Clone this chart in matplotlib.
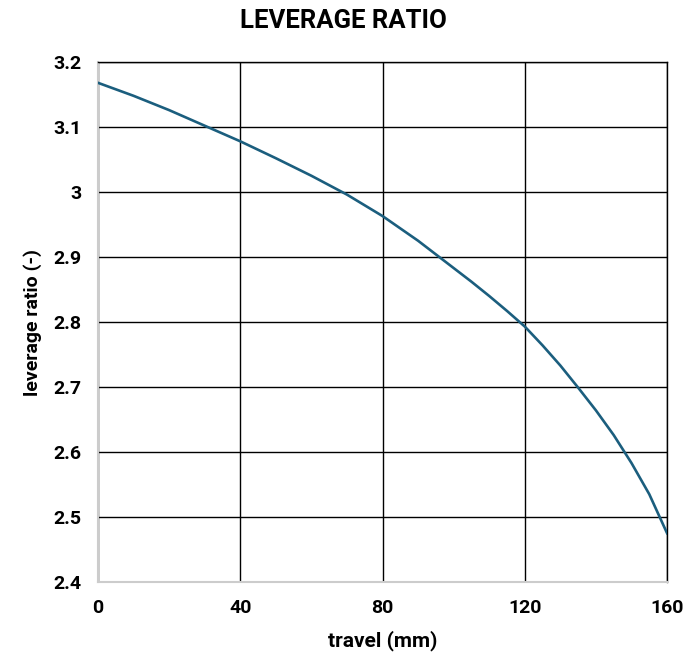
import matplotlib.pyplot as plt

# data
travel = [0, 10, 20, 30, 40, 50, 60, 70, 80, 90, 100, 105, 110, 115, 120, 125,
          130, 135, 140, 145, 150, 155, 160]
leverage = [3.168, 3.148, 3.126, 3.102, 3.078, 3.052, 3.025, 2.996, 2.963, 2.925,
            2.883, 2.862, 2.840, 2.817, 2.793, 2.764, 2.733, 2.699, 2.664, 2.626,
            2.583, 2.535, 2.475]
x_ticks = [0, 40, 80, 120, 160]
y_ticks = [2.4, 2.5, 2.6, 2.7, 2.8, 2.9, 3.0, 3.1, 3.2]
y_tick_labels = ['2.4', '2.5', '2.6', '2.7', '2.8', '2.9', '3', '3.1', '3.2']

plt.rcParams['font.family'] = ['Roboto', 'DejaVu Sans']
plt.rcParams['font.weight'] = 'bold'

fig = plt.figure(figsize=(6.87, 6.61), dpi=100)
ax = fig.add_axes([0.1426, 0.1195, 0.8284, 0.7867])

ax.plot(travel, leverage, color='#1b5e7e', linewidth=1.9, zorder=3)

ax.set_xlim(0, 160)
ax.set_ylim(2.4, 3.2)
ax.set_xticks(x_ticks)
ax.set_yticks(y_ticks)
ax.set_yticklabels(y_tick_labels)
ax.grid(True, color='black', linewidth=1.0)
ax.set_axisbelow(True)

for side in ['left', 'bottom']:
    ax.spines[side].set_color('#cccccc')
    ax.spines[side].set_linewidth(1.5)
for side in ['top', 'right']:
    ax.spines[side].set_color('black')
    ax.spines[side].set_linewidth(1.0)

ax.tick_params(length=0, labelsize=14, pad=12)
for lbl in ax.get_xticklabels() + ax.get_yticklabels():
    lbl.set_fontweight('bold')

ax.set_xlabel('travel (mm)', fontsize=15, fontweight='bold', labelpad=10)
ax.set_ylabel('leverage ratio (-)', fontsize=14, fontweight='bold', labelpad=8)
fig.suptitle('LEVERAGE RATIO', fontsize=18.5, fontweight='bold', x=0.5, y=0.987)

fig.savefig('out.png', dpi=100)
